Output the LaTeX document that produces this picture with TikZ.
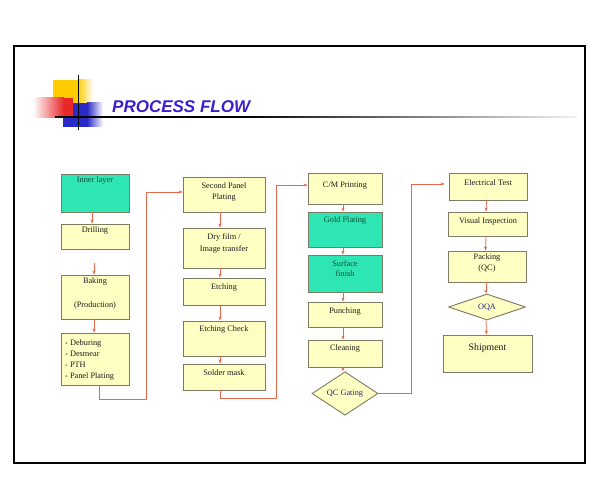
\documentclass[tikz,border=0pt]{standalone}
\usepackage{fontspec}
\setmainfont{Liberation Serif}
\newfontfamily\titlefont{Liberation Sans}
\usetikzlibrary{shapes.geometric,arrows.meta,calc}

\definecolor{boxfill}{HTML}{FFFFC4}
\definecolor{tealfill}{HTML}{2EE6B4}
\definecolor{boxline}{HTML}{7C7C64}
\definecolor{arrowc}{HTML}{E8684A}
\definecolor{titleblue}{HTML}{3A1FD0}
\definecolor{txtc}{HTML}{1A1A1A}
\definecolor{tealtxt}{HTML}{184A34}
\definecolor{diatxt}{HTML}{24247A}
\definecolor{decoyellow}{HTML}{FFCC00}
\definecolor{decored}{HTML}{E82828}
\definecolor{decoblue}{HTML}{2A2AC8}

\newcommand\pbox[6]{%
  \node[#2, minimum width={#5pt-#3pt}, minimum height={#6pt-#4pt}] (#1) at ({(#3+#5)/2},{(#4+#6)/2}) {};}

\begin{document}
\begin{tikzpicture}[x=1pt,y=-1pt,
  box/.style={draw=boxline, line width=0.9pt, fill=boxfill, rectangle, inner sep=0pt},
  tbox/.style={box, fill=tealfill},
  dia/.style={draw=boxline, line width=0.9pt, fill=boxfill, diamond, inner sep=0pt, font=\fontsize{8.3}{9.6}\selectfont, text=diatxt},
  txt/.style={font=\fontsize{8.3}{9.6}\selectfont, text=txtc, inner sep=0pt, align=center},
  ttxt/.style={txt, text=tealtxt},
  arr/.style={draw=arrowc, line width=0.8pt, -{Stealth[length=4pt,width=3.2pt]}},
  ]
\useasboundingbox (0,0) rectangle (600,500);
\fill[white] (0,0) rectangle (600,500);

% frame
\draw[line width=1.6pt, black] (14,46) rectangle (585,463);

% decoration
\fill[decoyellow] (53,80) rectangle (78,103);
\shade[left color=decoyellow, right color=white] (78,80) rectangle (93,103);
\fill[decoblue] (63,103) rectangle (87,127);
\shade[left color=decoblue, right color=white] (87,103) rectangle (103,127);
\shade[left color=white, right color=decored] (33,98) rectangle (64,118);
\fill[decored] (64,98) rectangle (73,118);
\fill[black] (55,116.2) rectangle (240,117.8);
\shade[left color=black, right color=white!90!gray] (240,116.2) rectangle (577,117.8);
\draw[line width=1.6pt, black] (78.5,75) -- (78.5,130);

\node[font=\titlefont\bfseries\itshape\fontsize{17}{20}\selectfont, text=titleblue, anchor=base west, inner sep=0pt] (title) at (112,113) {PROCESS FLOW};

% column 1
\pbox{inner}{tbox}{61}{174}{129}{212}
\pbox{drill}{box}{61}{224}{129}{249}
\pbox{bake}{box}{61}{275}{129}{319}
\pbox{deb}{box}{61}{333}{129}{385}
\node[ttxt] (t-inner) at (95,181) {Inner layer};
\node[txt] (t-drill) at (95,231) {Drilling};
\node[txt] (t-bake1) at (95,282) {Baking};
\node[txt] (t-bake2) at (95,306) {(Production)};
\node[txt, anchor=west, align=left, font=\fontsize{8.3}{11.3}\selectfont] (t-deb) at (65,360) {- Deburing\\- Desmear\\- PTH\\- Panel Plating};

% column 2
\pbox{sec}{box}{183}{177}{265}{212}
\pbox{dry}{box}{183}{228}{265}{268}
\pbox{etch}{box}{183}{278}{265}{305}
\pbox{echk}{box}{183}{321}{265}{356}
\pbox{sold}{box}{183}{364}{265}{390}
\node[txt, font=\fontsize{8.3}{11}\selectfont] (t-sec) at (224,192.5) {Second Panel\\Plating};
\node[txt, font=\fontsize{8.3}{12}\selectfont] (t-dry) at (224,243) {Dry film /\\Image transfer};
\node[txt] (t-etch) at (224,288) {Etching};
\node[txt] (t-echk) at (224,330) {Etching Check};
\node[txt] (t-sold) at (224,373) {Solder mask};

% column 3
\pbox{cm}{box}{308}{173}{382}{204}
\pbox{gold}{tbox}{308}{212}{382}{247}
\pbox{surf}{tbox}{308}{255}{382}{292}
\pbox{punch}{box}{308}{302}{382}{327}
\pbox{clean}{box}{308}{340}{382}{367}
\node[dia, minimum width=66pt, minimum height=27pt] (qc) at (345,393.5) {QC Gating};
\node[txt] (t-cm) at (345,186) {C/M Printing};
\node[ttxt] (t-gold) at (345,221) {Gold Plating};
\node[ttxt, font=\fontsize{8.3}{10}\selectfont] (t-surf) at (345,269) {Surface\\finish};
\node[txt] (t-punch) at (345,312) {Punching};
\node[txt] (t-clean) at (345,349) {Cleaning};

% column 4
\pbox{elec}{box}{449}{173}{527}{200}
\pbox{vis}{box}{448}{212}{527}{236}
\pbox{pack}{box}{448}{251}{526}{282}
\node[dia, minimum width=77pt, minimum height=26pt] (oqa) at (487,307) {OQA};
\pbox{ship}{box}{443}{335}{532}{372}
\node[txt] (t-elec) at (488,183) {Electrical Test};
\node[txt] (t-vis) at (488,222) {Visual Inspection};
\node[txt, font=\fontsize{8.3}{11}\selectfont] (t-pack) at (487,263.5) {Packing\\(QC)};
\node[txt, font=\fontsize{9.8}{11}\selectfont] (t-ship) at (487.5,348.5) {Shipment};

% connectors column 1
\draw[arr] ([xshift=-3pt]inner.south) -- ([xshift=-3pt]drill.north);
\draw[arr, shorten <=14pt] ([xshift=-1pt]drill.south) -- ([xshift=-1pt]bake.north);
\draw[arr] ([xshift=-1pt]bake.south) -- ([xshift=-1pt]deb.north);
% column 2
\draw[arr] ([xshift=-4pt]sec.south) -- ([xshift=-4pt]dry.north);
\draw[arr] ([xshift=-4pt]dry.south) -- ([xshift=-4pt]etch.north);
\draw[arr] ([xshift=-4pt]etch.south) -- ([xshift=-4pt]echk.north);
\draw[arr] ([xshift=-4pt]echk.south) -- ([xshift=-4pt]sold.north);
% column 3
\draw[arr] ([xshift=-2pt]cm.south) -- ([xshift=-2pt]gold.north);
\draw[arr] ([xshift=-2pt]gold.south) -- ([xshift=-2pt]surf.north);
\draw[arr] ([xshift=-2pt]surf.south) -- ([xshift=-2pt]punch.north);
\draw[arr] ([xshift=-2pt]punch.south) -- ([xshift=-2pt]clean.north);
\draw[arr] ([xshift=-2pt]clean.south) -- ([xshift=-2pt]qc.north);
% column 4
\draw[arr] ([xshift=-1.5pt]elec.south) -- ([xshift=-1.5pt]vis.north);
\draw[arr] ([xshift=-1.5pt]vis.south) -- ([xshift=-1.5pt]pack.north);
\draw[arr] ([xshift=-1pt]pack.south) -- ([xshift=-1pt]oqa.north);
\draw[arr] ([xshift=-1pt]oqa.south) -- ([xshift=-1pt]ship.north);

% elbow connectors
\coordinate (j1) at (146,399);
\coordinate (j2) at (276,398);
\coordinate (j3) at (411.5,394);
\draw[arr] ([xshift=4pt]deb.south) |- (j1) |- ([yshift=2.5pt]sec.west);
\draw[arr] ([xshift=-4pt]sold.south) |- (j2) |- ([yshift=3.5pt]cm.west);
\draw[arr, shorten >=4pt] (qc.east) -| (j3) |- ([yshift=2.5pt]elec.west);
\end{tikzpicture}
\end{document}
